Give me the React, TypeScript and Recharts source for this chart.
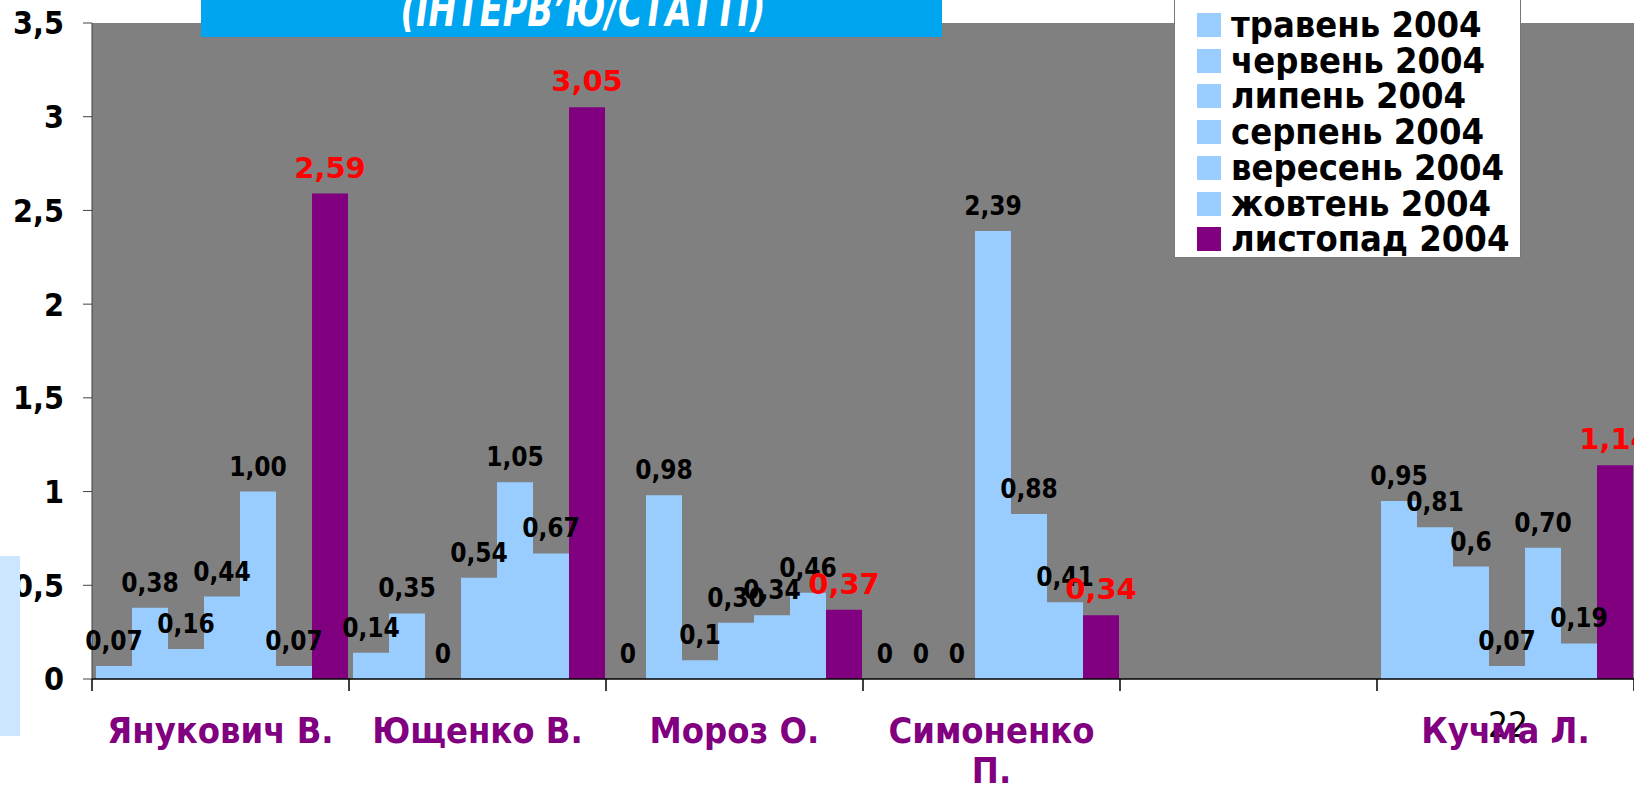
import React from "react";
import { BarChart, Bar, XAxis, YAxis, CartesianGrid, LabelList } from "recharts";

const categories = ["Янукович В.", "Ющенко В.", "Мороз О.", "Симоненко П.", "", "Кучма Л."];
const seriesNames = [
  "травень 2004", "червень 2004", "липень 2004", "серпень 2004",
  "вересень 2004", "жовтень 2004", "листопад 2004",
];
// values as printed on the chart (null = no bar)
const traven = ["0,07", "0,14", "0", "0", null, "0,95"];
const cherven = ["0,38", "0,35", "0,98", "0", null, "0,81"];
const lypen = ["0,16", "0", "0,1", "0", null, "0,6"];
const serpen = ["0,44", "0,54", "0,30", "2,39", null, "0,07"];
const veresen = ["1,00", "1,05", "0,34", "0,88", null, "0,70"];
const zhovten = ["0,07", "0,67", "0,46", "0,41", null, "0,19"];
const lystopad = ["2,59", "3,05", "0,37", "0,34", null, "1,14"];
const yTicks = [0, 0.5, 1, 1.5, 2, 2.5, 3, 3.5];

const seriesValues = [traven, cherven, lypen, serpen, veresen, zhovten, lystopad];
const LIGHT = "#99ccff";
const PURPLE = "#800080";
const seriesColors = [LIGHT, LIGHT, LIGHT, LIGHT, LIGHT, LIGHT, PURPLE];

const COND = "'DejaVu Sans Condensed', 'DejaVu Sans', sans-serif";
const WIDE = "'DejaVu Sans', Verdana, sans-serif";

const toNum = (s: string | null) => (s == null ? null : parseFloat(s.replace(",", ".")));

const data = categories.map((name, i) => {
  const row: any = { name };
  seriesValues.forEach((vals, s) => {
    row["s" + s] = toNum(vals[i]);
    row["t" + s] = vals[i];
  });
  return row;
});

const TICK = 12;
const MARGIN = 26;
const CAT_FONT = 36;

let measureCtx: CanvasRenderingContext2D | null = null;
function wrapWords(text: string, maxWidth: number) {
  if (!measureCtx) measureCtx = document.createElement("canvas").getContext("2d");
  const ctx = measureCtx!;
  ctx.font = `bold ${CAT_FONT}px ${COND}`;
  const lines: string[] = [];
  let cur = "";
  text.split(" ").forEach((w) => {
    const next = cur ? cur + " " + w : w;
    if (cur && ctx.measureText(next).width > maxWidth) {
      lines.push(cur);
      cur = w;
    } else cur = next;
  });
  if (cur) lines.push(cur);
  return lines;
}

function CategoryTick({ x, y, payload, index, visibleTicksCount }: any) {
  const half = payload?.offset ?? 0;
  const axisY = y - TICK - MARGIN;
  const lines = payload.value ? wrapWords(payload.value, 236) : [];
  return (
    <g>
      <line x1={x - half} x2={x - half} y1={axisY} y2={axisY + TICK} stroke="#000" strokeWidth={1.5} />
      {index === visibleTicksCount - 1 && (
        <line x1={x + half} x2={x + half} y1={axisY} y2={axisY + TICK} stroke="#000" strokeWidth={1.5} />
      )}
      <text x={x} y={y} textAnchor="middle" fill={PURPLE} fontSize={CAT_FONT} fontWeight="bold" fontFamily={COND}>
        {lines.map((l, i) => (
          <tspan key={i} x={x} dy={i === 0 ? "0.71em" : 40}>{l}</tspan>
        ))}
      </text>
    </g>
  );
}

export default function App() {
  return (
    <div style={{ position: "absolute", left: 0, top: 0, width: 1634, height: 786, background: "#fff", overflow: "hidden" }}>
      <svg width={1634} height={786} style={{ position: "absolute", left: 0, top: 0 }}>
        <text x={1488} y={737} fontSize={35} fontFamily={COND} fill="#000">22</text>
      </svg>

      <div style={{ position: "absolute", left: 0, top: 0 }}>
        <BarChart width={1634} height={786} data={data} margin={{ top: 23, right: 0, bottom: 0, left: 0 }}
          barCategoryGap={4} barGap={0}>
          <CartesianGrid horizontal={false} vertical={false} fill="#808080" fillOpacity={1} />
          <XAxis dataKey="name" height={107} interval={0} tickLine={false} tickSize={TICK} tickMargin={MARGIN}
            axisLine={{ stroke: "#000", strokeWidth: 1.5 }} tick={<CategoryTick />} />
          <YAxis width={92} domain={[0, 3.5]} ticks={yTicks} interval={0} tickSize={9} tickMargin={19}
            axisLine={{ stroke: "#404040" }} tickLine={{ stroke: "#404040" }}
            tickFormatter={(v) => String(v).replace(".", ",")}
            tick={{ fontSize: 32, fontWeight: "bold", fontFamily: COND, fill: "#000" }} />
          {seriesNames.map((n, s) => (
            <Bar key={n} dataKey={"s" + s} name={n} fill={seriesColors[s]} isAnimationActive={false}
              minPointSize={(v: any) => (v === 0 ? 0.01 : 0)}>
              <LabelList dataKey={"t" + s} position="top" offset={16}
                fill={s === 6 ? "#ff0000" : "#000"}
                fontSize={s === 6 ? 29 : 26} fontWeight="bold" fontFamily={s === 6 ? WIDE : COND} />
            </Bar>
          ))}
        </BarChart>
      </div>

      {/* title strip, cut at the top edge */}
      <svg width={741} height={37} style={{ position: "absolute", left: 201, top: 0, background: "#00a5f0" }}>
        <text x={382} y={26} textAnchor="middle" fontSize={48} fontWeight="bold" fontStyle="italic"
          textLength={365} lengthAdjust="spacingAndGlyphs"
          fontFamily={COND} fill="#fff">(ІНТЕРВ’Ю/СТАТТІ)</text>
      </svg>

      {/* legend */}
      <div style={{ position: "absolute", left: 1174, top: -10, width: 345, height: 266, background: "#fff",
        border: "1.5px solid #777" }}>
        {seriesNames.map((n, i) => (
          <div key={n} style={{ position: "absolute", left: 22, top: 22 + i * 35.7, height: 24, display: "flex",
            alignItems: "center" }}>
            <span style={{ width: 24, height: 24, background: seriesColors[i], display: "inline-block" }} />
            <span style={{ marginLeft: 10, fontFamily: COND, fontWeight: "bold", fontSize: 36, color: "#000",
              lineHeight: "24px", whiteSpace: "nowrap" }}>{n}</span>
          </div>
        ))}
      </div>

      <div style={{ position: "absolute", left: 0, top: 556, width: 20, height: 180, background: "#cce6ff" }} />
    </div>
  );
}
